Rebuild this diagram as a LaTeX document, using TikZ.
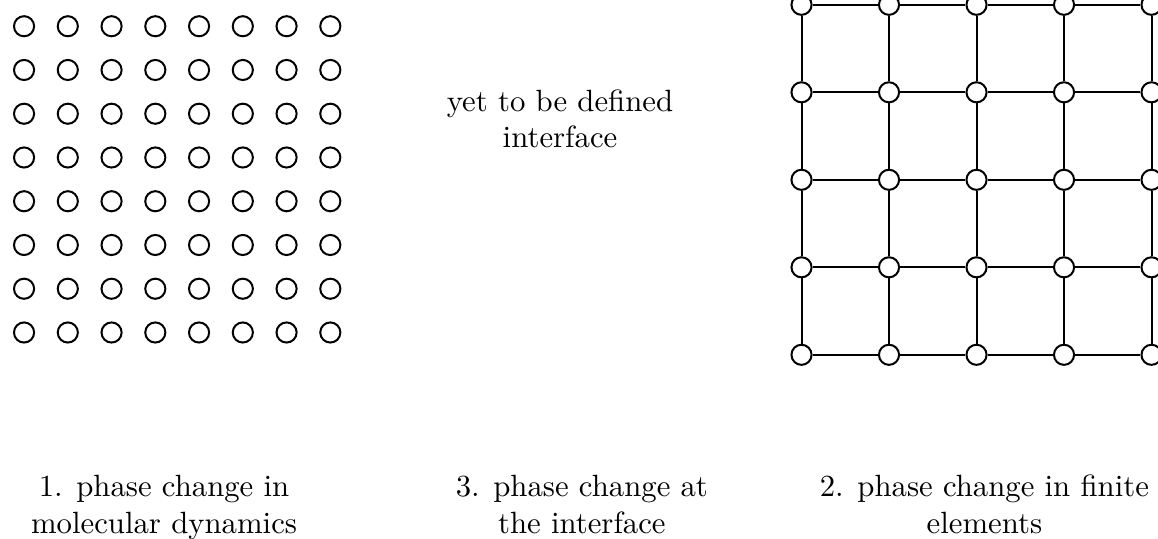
\documentclass[tikz,border=0pt]{standalone}
\begin{document}
\begin{tikzpicture}[
  atom/.style={circle, draw, line width=0.65pt, inner sep=0pt, minimum size=0.23cm},
  fenode/.style={circle, draw, line width=0.65pt, inner sep=0pt, minimum size=0.23cm},
  bond/.style={line width=0.65pt},
  caption/.style={align=center, anchor=base}
]
  \useasboundingbox (0,0) rectangle (13.234,6.16);
  % molecular dynamics
  \foreach \i in {0,...,7}
    \foreach \j in {0,...,7}
      \node[atom] (a-\i-\j) at (0.275+0.5*\i, 2.36+0.5*\j) {};
  % finite elements
  \foreach \i in {0,...,4}
    \foreach \j in {0,...,4}
      \node[fenode] (e-\i-\j) at (9.16+\i, 2.105+\j) {};
  \foreach \i [evaluate=\i as \k using int(\i+1)] in {0,...,3}
    \foreach \j in {0,...,4} {
      \draw[bond] (e-\i-\j) -- (e-\k-\j);
      \draw[bond] (e-\j-\i) -- (e-\j-\k);
    }
  % interface
  \node[caption] (iface) at (6.4,4.469) {yet to be defined\\interface};
  % captions
  \node[caption] (md) at (1.875,0.065) {1. phase change in\\molecular dynamics};
  \node[caption] (pi) at (6.65,0.065) {3. phase change at\\the interface};
  \node[caption] (fe) at (11.25,0.065) {2. phase change in finite\\elements};

\end{tikzpicture}
\end{document}
